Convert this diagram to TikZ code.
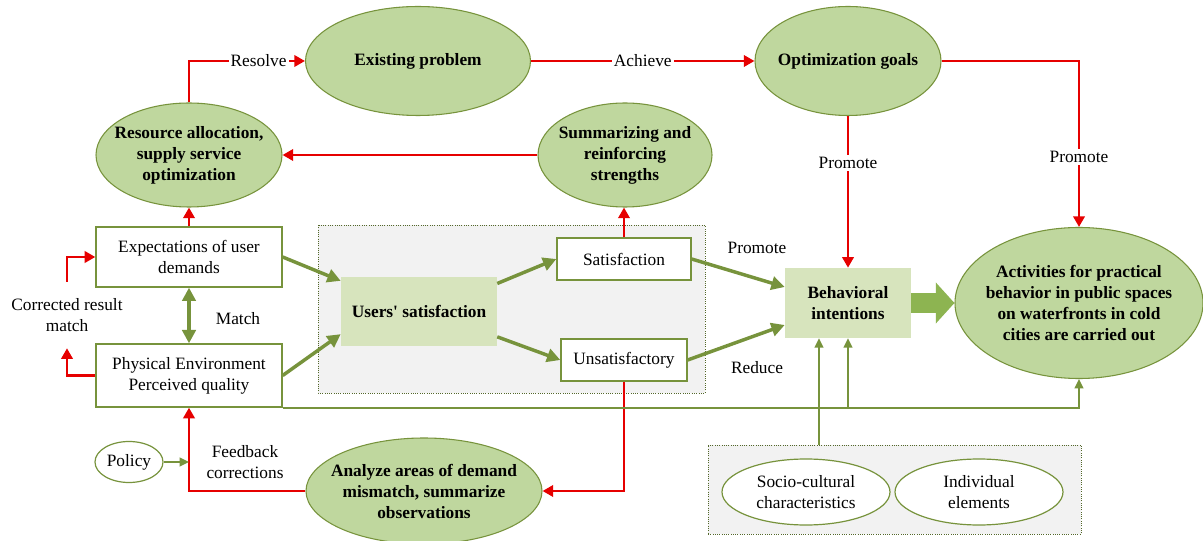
\documentclass[tikz,border=0pt]{standalone}
\usepackage{fontspec}
\setmainfont{Liberation Serif}[Ligatures=TeXOff]
\usetikzlibrary{shapes.geometric,arrows.meta}
\definecolor{ovalgreen}{HTML}{BFD79E}
\definecolor{linegreen}{HTML}{77933C}
\definecolor{boxgreen}{HTML}{D7E4BD}
\definecolor{fatgreen}{HTML}{8DB451}
\definecolor{arrowred}{HTML}{E60000}
\definecolor{panelgray}{HTML}{F2F2F2}

\begin{document}
\begin{tikzpicture}[x=0.75pt,y=-0.75pt,
	every node/.style={font=\fontsize{13}{15.75}\selectfont, align=center, inner sep=0pt},
	boldtext/.style={font=\fontsize{13}{15.75}\selectfont\bfseries},
	oval/.style={ellipse, draw=linegreen, fill=ovalgreen, line width=0.8pt},
	whiteoval/.style={ellipse, draw=linegreen, fill=white, line width=0.9pt},
	box/.style={rectangle, draw=linegreen, fill=white, line width=1pt},
	softbox/.style={rectangle, fill=boxgreen, boldtext},
	panel/.style={rectangle, draw=linegreen!70!black, fill=panelgray, densely dotted, line width=0.7pt},
	redarrow/.style={draw=arrowred, line width=2.2pt, -{Triangle[length=8pt,width=8.5pt]}},
	grnarrow/.style={draw=linegreen, line width=2.6pt, >={Triangle[length=10pt,width=10pt]}, ->},
	thinarrow/.style={draw=linegreen, line width=1.4pt, -{Triangle[length=7pt,width=6.5pt]}},
	fatarrow/.style={draw=fatgreen, line width=15pt, -{Triangle[length=14pt,width=30pt]}},
	lbl/.style={fill=white, inner sep=1.5pt}]
	\useasboundingbox[fill=white] (0,0) rectangle (1203,541);
	% grey panels
	\draw[panel] (318,225) rectangle (705,393);
	\node[panel, minimum width=279.75pt, minimum height=66.75pt] (traits) at (894.5,489.5) {};
	% ovals
	\node[oval, minimum width=168.75pt, minimum height=81.75pt, label={[boldtext]center:{Existing problem}}] (problem) at (418,61) {};
	\node[oval, minimum width=139.5pt, minimum height=81.75pt, label={[boldtext]center:{Optimization goals}}] (goals) at (848,61) {};
	\node[oval, minimum width=139.5pt, minimum height=78pt, label={[boldtext]center:{Resource allocation,\\supply service\\optimization}}] (resource) at (189,155) {};
	\node[oval, minimum width=130.5pt, minimum height=78pt, label={[boldtext]center:{Summarizing and\\reinforcing\\strengths}}] (strength) at (625,155) {};
	\node[oval, minimum width=186pt, minimum height=113.25pt, label={[boldtext]center:{Activities for practical\\behavior in public spaces\\on waterfronts in cold\\cities are carried out}}] (activity) at (1079,303) {};
	\node[oval, minimum width=177pt, minimum height=79.5pt, label={[boldtext]center:{Analyze areas of demand\\mismatch, summarize\\observations}}] (analyze) at (424,491) {};
	\node[whiteoval, minimum width=51pt, minimum height=30.75pt] (policy) at (129,462) {Policy};
	\node[whiteoval, minimum width=126pt, minimum height=49.5pt] (social) at (806,492) {Socio-cultural\\characteristics};
	\node[whiteoval, minimum width=126pt, minimum height=49.5pt] (personal) at (979,492) {Individual\\elements};
	% boxes
	\node[box, minimum width=139.5pt, minimum height=45pt] (expect) at (189,257) {Expectations of user\\demands};
	\node[box, minimum width=139.5pt, minimum height=47.25pt] (physical) at (189,375.5) {Physical Environment\\Perceived quality};
	\node[softbox, minimum width=117pt, minimum height=51.75pt] (users) at (419,311.5) {Users' satisfaction};
	\node[box, minimum width=100.5pt, minimum height=31.5pt] (satisfied) at (624,259) {Satisfaction};
	\node[box, minimum width=94.5pt, minimum height=31.5pt] (unsatisfied) at (624,360) {Unsatisfactory};
	\node[softbox, minimum width=94.5pt, minimum height=52.5pt] (intention) at (848,303) {Behavioral\\intentions};
	% free labels
	\node[minimum height=49.5pt] (fixtext) at (67,315) {Corrected result\\match};
	\node (matchtext) at (238,319) {Match};
	\node (feedback) at (245,462) {Feedback\\corrections};
	\node (promote1) at (757,248) {Promote};
	\node (reduce) at (757,368) {Reduce};
	% red links
	\draw[redarrow] (resource.north) |- node[lbl, pos=0.8] (resolvetext) {Resolve} (problem.west);
	\draw[redarrow] (problem.east) -- node[lbl] (achievetext) {Achieve} (goals.west);
	\draw[redarrow] (strength.west) -- (resource.east);
	\draw[redarrow] (goals.south) -- node[lbl, pos=0.31] (promote2) {Promote} (intention.north);
	\draw[redarrow] (goals.east) -| node[lbl, pos=0.79] (promote3) {Promote} (activity.north);
	\draw[redarrow] (expect.north) -- (resource.south);
	\draw[redarrow] (satisfied.north) -- (satisfied.north |- strength.south);
	\draw[redarrow] (unsatisfied.south) |- (analyze.east);
	\draw[redarrow] (analyze.west) -| (physical.south);
	\draw[redarrow] (physical.west) -| (fixtext.south);
	\draw[redarrow] (fixtext.north) |- (expect.west);
	% green links
	\draw[grnarrow, <->] (expect.south) -- (physical.north);
	\draw[grnarrow] (expect.east) -- ([yshift=23pt]users.west);
	\draw[grnarrow] (physical.east) -- ([yshift=-17pt]users.west);
	\draw[grnarrow] ([yshift=21pt]users.east) -- (satisfied.west);
	\draw[grnarrow] ([yshift=-19pt]users.east) -- (unsatisfied.west);
	\draw[grnarrow] (satisfied.east) -- ([yshift=12pt]intention.west);
	\draw[grnarrow] (unsatisfied.east) -- ([yshift=-16.5pt]intention.west);
	\draw[thinarrow] (physical.south east) -| (activity.south);
	\draw[thinarrow] (intention.south |- physical.south east) -- (intention.south);
	\coordinate (socialin) at ([xshift=-21.75pt]intention.south);
	\draw[thinarrow] (traits.north -| socialin) -- (socialin);
	\draw[thinarrow] (policy.east) -- (policy.east -| physical.south);
	\draw[fatarrow] (intention.east) -- (activity.west);
\end{tikzpicture}
\end{document}
